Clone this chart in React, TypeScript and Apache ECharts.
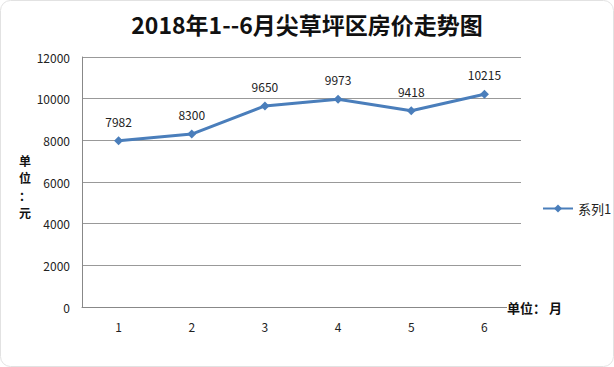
import React, { useEffect, useRef } from "react";
import * as echarts from "echarts";

const months = ["1", "2", "3", "4", "5", "6"];
const prices = [7982, 8300, 9650, 9973, 9418, 10215];
const seriesName = "系列1";
const titleText = "2018年1--6月尖草坪区房价走势图";
const yName = "单位：元";
const xName = "单位： 月";

export default function App() {
  const ref = useRef<HTMLDivElement>(null);
  useEffect(() => {
    if (!ref.current) return;
    const chart = echarts.init(ref.current, undefined, { renderer: "svg" });
    const font = "'Noto Sans CJK SC', 'Noto Sans', sans-serif";
    const yNameChars = yName.split("").map((ch, i) => ({
      type: "text",
      x: 25,
      y: 160 + i * 17.5,
      style: {
        text: ch,
        fontSize: 12,
        fontWeight: "bold",
        fill: "#111",
        fontFamily: font,
        align: "center",
        verticalAlign: "middle",
      },
    }));
    chart.setOption({
      animation: false,
      backgroundColor: "#fff",
      title: {
        text: titleText,
        left: "center",
        top: 7,
        textStyle: { fontSize: 23, fontWeight: "bold", color: "#111", fontFamily: font },
      },
      legend: {
        data: [{ name: seriesName }],
        orient: "vertical",
        left: 537,
        top: 197,
        itemWidth: 30,
        itemHeight: 10,
        itemGap: 4,
        textStyle: { fontSize: 13, color: "#222", fontFamily: font },
      },
      grid: { left: 82, right: 93, top: 57, bottom: 60 },
      xAxis: {
        type: "category",
        data: months,
        boundaryGap: true,
        axisLine: { lineStyle: { color: "#888", width: 1 } },
        axisTick: { show: false },
        axisLabel: { margin: 13, fontSize: 12, color: "#222", fontFamily: font },
      },
      yAxis: {
        type: "value",
        min: 0,
        max: 12000,
        interval: 2000,
        axisLine: { show: true, lineStyle: { color: "#888", width: 1 } },
        axisTick: { show: false },
        axisLabel: {
          margin: 12,
          fontSize: 12,
          color: "#222",
          fontFamily: font,
          formatter: (v: number) => String(v),
        },
        splitLine: { lineStyle: { color: "#999", width: 1 } },
      },
      graphic: [
        {
          type: "rect",
          shape: { x: 0.5, y: 0.5, width: 613, height: 366, r: 10 },
          style: { fill: "none", stroke: "#e2e2e2", lineWidth: 1 },
          silent: true,
        },
        ...yNameChars,
        {
          type: "text",
          left: 507,
          top: 301,
          z: 10,
          style: {
            text: xName,
            fontSize: 13,
            fontWeight: "bold",
            fill: "#111",
            fontFamily: font,
            backgroundColor: "#fff",
          },
        },
      ],
      series: [
        {
          name: seriesName,
          type: "line",
          data: prices,
          symbol: "diamond",
          symbolSize: 9,
          lineStyle: { color: "#4a7ebb", width: 3 },
          itemStyle: { color: "#4a7ebb" },
          label: {
            show: true,
            position: "top",
            distance: 9,
            fontSize: 12,
            color: "#222",
            fontFamily: font,
          },
        },
      ],
    });
    return () => chart.dispose();
  }, []);
  return (
    <div
      ref={ref}
      style={{ position: "fixed", left: 0, top: 0, width: 614, height: 367 }}
    />
  );
}
